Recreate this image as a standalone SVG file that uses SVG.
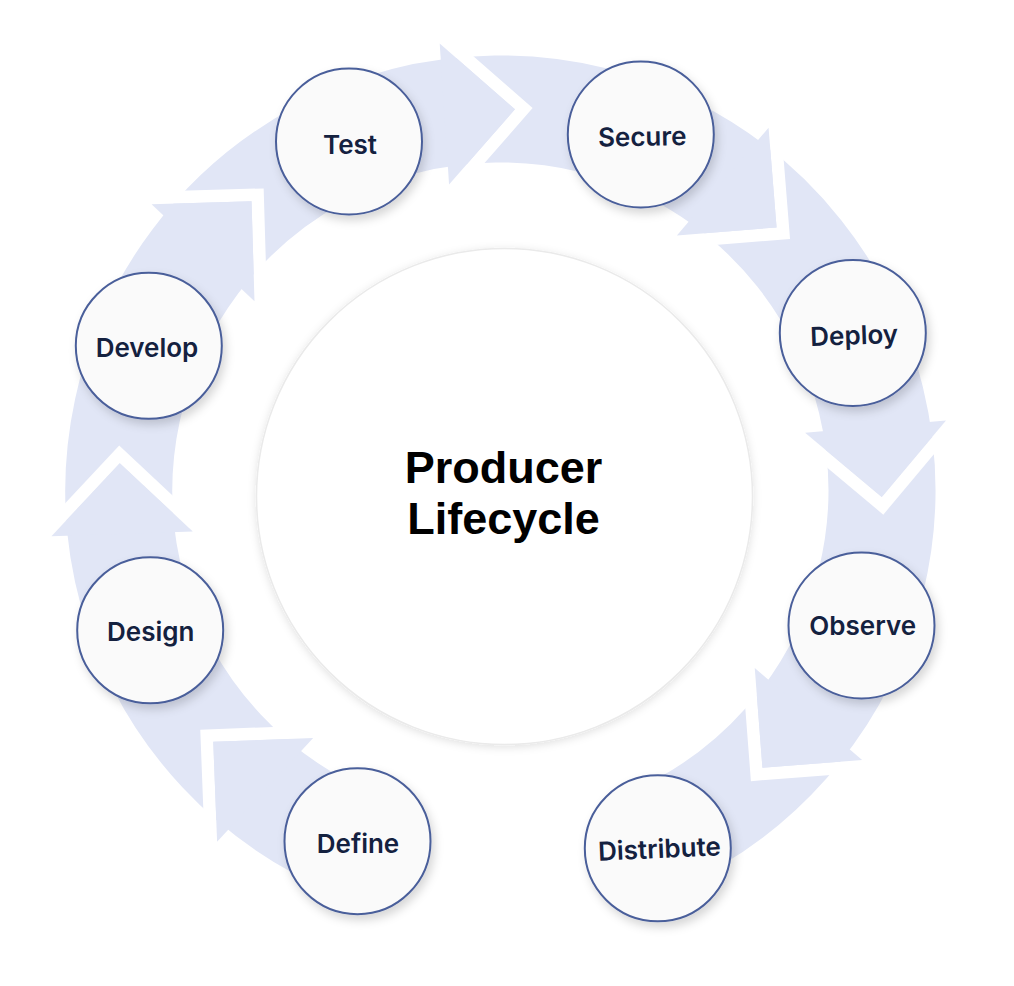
<svg xmlns="http://www.w3.org/2000/svg" xmlns:xlink="http://www.w3.org/1999/xlink" width="1014" height="986" viewBox="0 0 1014 986">
  <style>
    .band { fill: none; stroke: #E1E6F6; stroke-width: 107; }
    .ahead { fill: #E1E6F6; }
    .gap { fill: #FFFFFF; }
    .node circle { fill: #FAFAFA; stroke: #4A5E9A; stroke-width: 2; }
    .node text { font-family: Inter, "Liberation Sans", sans-serif; font-weight: 600; font-size: 26px; fill: #14213F; text-anchor: middle; }
    .title { font-family: "Liberation Sans", Arial, sans-serif; font-weight: 700; font-size: 45px; fill: #000000; text-anchor: middle; }
  </style>
  <defs>
    <filter id="nodeShadow" x="-30%" y="-30%" width="170%" height="170%">
      <feDropShadow dx="3" dy="5" stdDeviation="5" flood-color="#000000" flood-opacity="0.16"/>
    </filter>
    <filter id="centerShadow" x="-20%" y="-20%" width="140%" height="140%">
      <feDropShadow dx="0" dy="2" stdDeviation="4" flood-color="#000000" flood-opacity="0.12"/>
    </filter>
    <g id="head">
      <polygon class="gap" points="0,0 -70.71,-70.71 -53,-70.71 17.7,0 -53,70.71 -70.71,70.71"/>
      <polygon class="ahead" points="0,0 -70.71,-70.71 -70.71,70.71"/>
    </g>
  </defs>

  <rect x="0" y="0" width="1014" height="986" fill="#FFFFFF"/>

  <g id="connectors">
    <path class="band" d="M 356.2 843.7 A 381.5 381.5 0 1 1 654.2 839.6"/>
    <use xlink:href="#head" href="#head" transform="rotate(138.8 500.3 490.5) translate(881.8 490.5) rotate(84)"/>
    <use xlink:href="#head" href="#head" transform="rotate(184.1 500.3 490.5) translate(881.8 490.5) rotate(84)"/>
    <use xlink:href="#head" href="#head" transform="rotate(229.3 500.3 490.5) translate(881.8 490.5) rotate(84)"/>
    <use xlink:href="#head" href="#head" transform="rotate(272.2 500.3 490.5) translate(881.8 490.5) rotate(84)"/>
    <use xlink:href="#head" href="#head" transform="rotate(316.4 500.3 490.5) translate(881.8 490.5) rotate(84)"/>
    <use xlink:href="#head" href="#head" transform="rotate(0.98 500.3 490.5) translate(881.8 490.5) rotate(84)"/>
    <use xlink:href="#head" href="#head" transform="rotate(46.6 500.3 490.5) translate(881.8 490.5) rotate(84)"/>
  </g>

  <g id="center">
    <circle cx="504.5" cy="496.5" r="248" fill="#FFFFFF" stroke="#EAEAEA" stroke-width="1.5" filter="url(#centerShadow)"/>
    <text class="title" x="503.5" y="483.3">Producer</text>
    <text class="title" x="503.5" y="534">Lifecycle</text>
  </g>

  <g id="node-define" class="node">
    <circle cx="357.5" cy="841.2" r="73" filter="url(#nodeShadow)"/>
    <text x="358" y="852.5">Define</text>
  </g>
  <g id="node-design" class="node">
    <circle cx="150.2" cy="630.3" r="73" filter="url(#nodeShadow)"/>
    <text x="150.8" y="641">Design</text>
  </g>
  <g id="node-develop" class="node">
    <circle cx="148.8" cy="345.8" r="73" filter="url(#nodeShadow)"/>
    <text x="147" y="357.3">Develop</text>
  </g>
  <g id="node-test" class="node">
    <circle cx="349" cy="141.5" r="73" filter="url(#nodeShadow)"/>
    <text x="350" y="154">Test</text>
  </g>
  <g id="node-secure" class="node">
    <circle cx="640.8" cy="134.5" r="73" filter="url(#nodeShadow)"/>
    <text x="642.3" y="145.8" transform="rotate(-1 642.3 138)">Secure</text>
  </g>
  <g id="node-deploy" class="node">
    <circle cx="852.8" cy="333" r="73" filter="url(#nodeShadow)"/>
    <text x="854.2" y="344.5" transform="rotate(-2 854.2 337)">Deploy</text>
  </g>
  <g id="node-observe" class="node">
    <circle cx="861.5" cy="625.5" r="73" filter="url(#nodeShadow)"/>
    <text x="862.7" y="635">Observe</text>
  </g>
  <g id="node-distribute" class="node">
    <circle cx="657.8" cy="848.3" r="73" filter="url(#nodeShadow)"/>
    <text x="659.5" y="858" transform="rotate(-2.5 659.5 850)">Distribute</text>
  </g>
</svg>
